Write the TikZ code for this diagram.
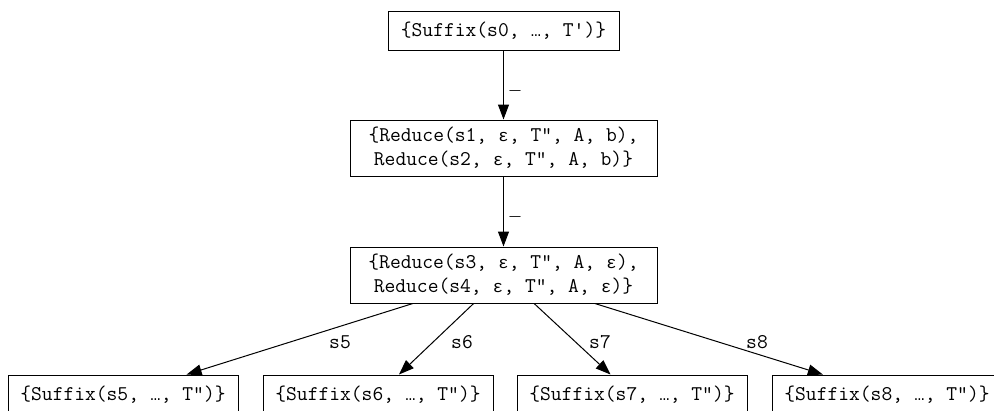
\documentclass[tikz,border=0pt]{standalone}
\usepackage{fontspec}
\newfontfamily\altmono{Liberation Mono}
\usetikzlibrary{arrows.meta}

% one character cell of the typewriter face (11pt wide)
\newcommand{\cellchar}[1]{\makebox[11pt]{\altmono\fontsize{17}{24}\selectfont #1}}
\newcommand{\eps}{\cellchar{ε}}
\newcommand{\ellip}{\cellchar{…}}

\tikzset{
  state/.style={draw=black, line width=1pt, inner sep=0pt, align=center,
    minimum height=39pt, font=\ttfamily\fontsize{20.95}{24}\selectfont},
  wide/.style={state, minimum width=307pt, minimum height=56pt},
  leaf/.style={state, minimum width=230pt},
  trans/.style={draw=black, line width=1pt, -{Triangle[length=15pt,width=11pt]}},
  lbl/.style={inner sep=0pt, font=\ttfamily\fontsize{20.95}{24}\selectfont},
  ulbl/.style={inner sep=0pt, anchor=base, font=\altmono\fontsize{18.3}{24}\selectfont}
}

\begin{document}
\begin{tikzpicture}[x=1pt, y=-1pt]
  \clip (0,0) rectangle (994,410);
  \fill[white] (0,0) rectangle (994,410);

  % configuration sets
  \node[state, minimum width=231pt] (s0) at (503.5,30.5) {\{Suffix(s0, \ellip, T')\}};
  \node[wide] (r12) at (503.5,148) {\{Reduce(s1, \eps, T", A, b),\\Reduce(s2, \eps, T", A, b)\}};
  \node[wide] (r34) at (503.5,275) {\{Reduce(s3, \eps, T", A, \eps),\\Reduce(s4, \eps, T", A, \eps)\}};
  \node[leaf] (x5) at (123,394.5) {\{Suffix(s5, \ellip, T")\}};
  \node[leaf] (x6) at (378,394.5) {\{Suffix(s6, \ellip, T")\}};
  \node[leaf] (x7) at (632,394.5) {\{Suffix(s7, \ellip, T")\}};
  \node[leaf] (x8) at (887,394.5) {\{Suffix(s8, \ellip, T")\}};

  % transitions
  \draw[trans] (s0) -- (r12);
  \draw[trans] (r12) -- (r34);
  \draw[trans] (r34) -- (x5);
  \draw[trans] (r34) -- (x6);
  \draw[trans] (r34) -- (x7);
  \draw[trans] (r34) -- (x8);

  % transition labels
  \node[ulbl] (u1) at (515,89) {\_};
  \node[ulbl] (u2) at (515,215) {\_};
  \node[lbl] (l5) at (340,342) {s5};
  \node[lbl] (l6) at (462,342) {s6};
  \node[lbl] (l7) at (600,342) {s7};
  \node[lbl] (l8) at (757,342) {s8};
\end{tikzpicture}
\end{document}
